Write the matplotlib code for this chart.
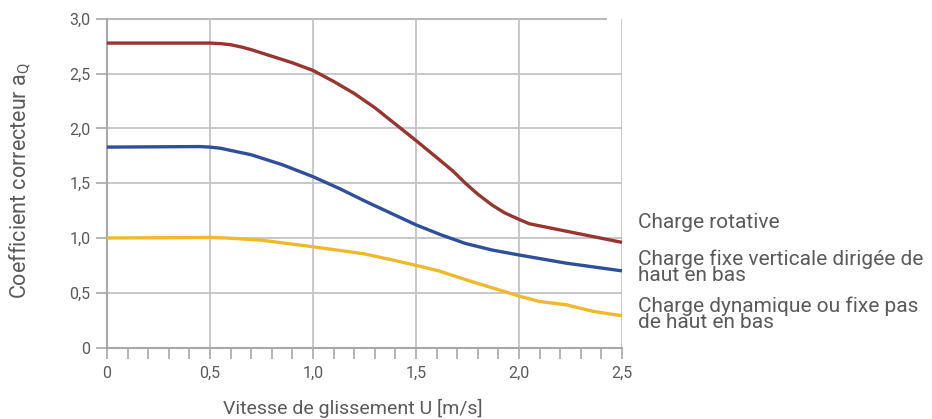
import matplotlib
matplotlib.use("Agg")
import matplotlib.pyplot as plt
from matplotlib.ticker import MultipleLocator

plt.rcParams['font.family'] = ['Roboto', 'DejaVu Sans']

# Data
red_x = [0, 0.5, 0.55, 0.6, 0.65, 0.7, 0.75, 0.8, 0.9, 1.0, 1.1, 1.2, 1.3, 1.4, 1.5, 1.61,
         1.68, 1.74, 1.80, 1.87, 1.93, 2.0, 2.05, 2.5]
red_y = [2.78, 2.78, 2.775, 2.765, 2.745, 2.72, 2.69, 2.66, 2.60, 2.53, 2.43, 2.32, 2.19, 2.04,
         1.89, 1.72, 1.61, 1.50, 1.40, 1.30, 1.23, 1.17, 1.13, 0.96]

blue_x = [0, 0.45, 0.5, 0.55, 0.6, 0.65, 0.7, 0.85, 1.0, 1.13, 1.26, 1.42, 1.5, 1.62, 1.74,
          1.87, 2.0, 2.23, 2.5]
blue_y = [1.83, 1.835, 1.83, 1.82, 1.80, 1.78, 1.76, 1.67, 1.56, 1.45, 1.33, 1.19, 1.12, 1.03,
          0.95, 0.89, 0.845, 0.77, 0.70]

yellow_x = [0, 0.5, 0.58, 0.75, 1.0, 1.25, 1.42, 1.5, 1.61, 1.74, 1.87, 2.0, 2.1, 2.23, 2.36, 2.5]
yellow_y = [1.0, 1.005, 1.0, 0.98, 0.92, 0.855, 0.785, 0.75, 0.70, 0.62, 0.545, 0.47, 0.42,
            0.39, 0.33, 0.29]

labels = ["Charge rotative",
          "Charge fixe verticale dirigée de\nhaut en bas",
          "Charge dynamique ou fixe pas\nde haut en bas"]

x_ticks = [0, 0.5, 1.0, 1.5, 2.0, 2.5]
x_ticklabels = ["0", "0,5", "1,0", "1,5", "2,0", "2,5"]
y_ticks = [0, 0.5, 1.0, 1.5, 2.0, 2.5, 3.0]
y_ticklabels = ["0", "0,5", "1,0", "1,5", "2,0", "2,5", "3,0"]

RED = "#983530"
BLUE = "#2f4f9c"
YELLOW = "#f0b92c"
TXT = "#5a5a5a"
GRID = "#c4c4c4"
AXC = "#a8a8a8"

fig = plt.figure(figsize=(9.32, 4.19), dpi=100)
ax = fig.add_axes([0.1148, 0.1706, 0.5526, 0.7841])

ax.set_xlim(0, 2.5)
ax.set_ylim(0, 3.0)

for s in ["top", "right"]:
    ax.spines[s].set_visible(False)
for s in ["left", "bottom"]:
    ax.spines[s].set_color(AXC)
    ax.spines[s].set_linewidth(1.5)

ax.set_xticks(x_ticks)
ax.set_xticklabels(x_ticklabels)
ax.xaxis.set_minor_locator(MultipleLocator(0.1))
ax.set_yticks(y_ticks)
ax.set_yticklabels(y_ticklabels)

ax.tick_params(axis="both", which="both", length=8, width=1.2, color=AXC,
               labelcolor=TXT, labelsize=11.5)
ax.tick_params(axis="x", which="major", pad=5)
ax.tick_params(axis="y", which="major", pad=4)

ax.grid(True, which="major", color=GRID, linewidth=1.3)
ax.set_axisbelow(True)
# top gridline is shorter in the reference
ygl = ax.get_ygridlines()
ygl[-1].set_visible(False)
ax.plot([0, 2.42], [3.0, 3.0], color="#b0b0b8", lw=1.3, clip_on=False, zorder=0.5)

ax.plot(red_x, red_y, color=RED, lw=2.4, solid_capstyle="butt", clip_on=False, zorder=3)
ax.plot(blue_x, blue_y, color=BLUE, lw=2.4, solid_capstyle="butt", clip_on=False, zorder=3)
ax.plot(yellow_x, yellow_y, color=YELLOW, lw=2.4, solid_capstyle="butt", clip_on=False, zorder=3)

ax.set_xlabel("Vitesse de glissement U [m/s]", color=TXT, fontsize=14)
ax.set_ylabel("Coefficient correcteur a$_\\mathregular{Q}$", color=TXT, fontsize=15.5)
ax.xaxis.set_label_coords(0.478, -0.184)
ax.yaxis.set_label_coords(-0.169, 0.507)
ax.xaxis.label.set_va("center")
ax.yaxis.label.set_va("center")

lx = 638 / 932
fig.text(lx, 1 - 222 / 419, labels[0], color=TXT, fontsize=15, va="center", ha="left")
fig.text(lx, 1 - 267 / 419, labels[1], color=TXT, fontsize=15, va="center", ha="left",
         linespacing=0.8)
fig.text(lx, 1 - 314 / 419, labels[2], color=TXT, fontsize=15, va="center", ha="left",
         linespacing=0.8)

fig.savefig("out.png", dpi=100)
